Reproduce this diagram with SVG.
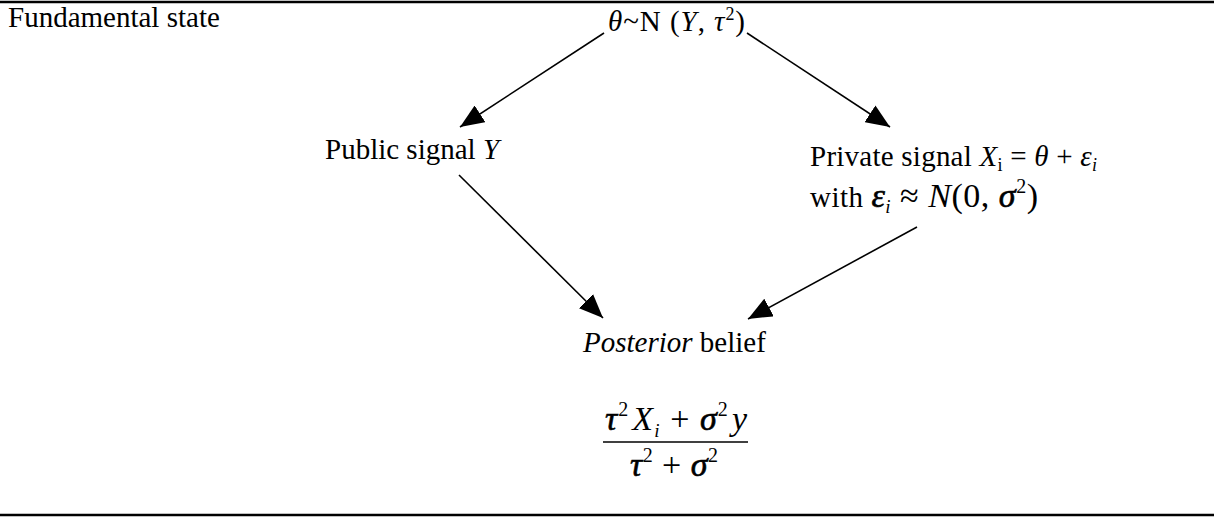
<svg xmlns="http://www.w3.org/2000/svg" width="1214" height="517" viewBox="0 0 1214 517">
<style>
text{font-family:"Liberation Serif","Times New Roman",serif;font-size:29px;fill:#000}
.it{font-style:italic}
.m{font-size:34px}
.b{stroke:#000;stroke-width:0.6}
.conn line{stroke:#000;stroke-width:1.6;fill:none}
</style>
<defs>
<marker id="ah" viewBox="0 0 24 20" refX="24" refY="10" markerWidth="24" markerHeight="20" markerUnits="userSpaceOnUse" orient="auto">
<path d="M0,0 L24,10 L0,20 z" fill="#000"/>
</marker>
</defs>
<rect width="1214" height="517" fill="#fff"/>
<line x1="0" y1="2" x2="1214" y2="2" stroke="#000" stroke-width="2.5"/>
<line x1="0" y1="515" x2="1214" y2="515" stroke="#000" stroke-width="2.5"/>
<g id="label-fundamental"><text x="8" y="27">Fundamental state</text></g>
<g id="node-theta"><text x="608" y="31" textLength="137" lengthAdjust="spacing"><tspan class="it">θ</tspan>~N (<tspan class="it">Y</tspan>, <tspan class="it">τ</tspan><tspan font-size="18" dy="-11">2</tspan><tspan dy="11">)</tspan></text></g>
<g id="node-public"><text x="325" y="159">Public signal <tspan class="it">Y</tspan></text></g>
<g id="node-private">
<text x="810" y="166" textLength="287" lengthAdjust="spacing">Private signal <tspan class="it">X</tspan><tspan font-size="18" dy="5">i</tspan><tspan dy="-5"> = </tspan><tspan class="it">θ</tspan> + <tspan class="it">ε</tspan><tspan class="it" font-size="18" dy="5">i</tspan></text>
<text x="810" y="207" textLength="228" lengthAdjust="spacing">with <tspan class="it m b">ε</tspan><tspan class="it" font-size="19" dy="6">i</tspan><tspan class="m" dy="-6"> ≈ </tspan><tspan class="it m">N</tspan><tspan class="m">(0, </tspan><tspan class="it m b">σ</tspan><tspan font-size="20" dy="-14">2</tspan><tspan class="m" dy="14">)</tspan></text>
</g>
<g id="node-posterior">
<text x="583" y="352"><tspan class="it">Posterior</tspan> belief</text>
<text x="605" y="430" class="m" textLength="142" lengthAdjust="spacing"><tspan class="it b">τ</tspan><tspan font-size="20" dy="-14">2</tspan><tspan class="it" dy="14" dx="3">X</tspan><tspan class="it" font-size="19" dy="7">i</tspan><tspan dy="-7"> + </tspan><tspan class="it b">σ</tspan><tspan font-size="20" dy="-14">2</tspan><tspan class="it" dy="14" dx="3">y</tspan></text>
<line x1="603" y1="442" x2="748" y2="442" stroke="#000" stroke-width="1.6"/>
<text x="630" y="476" class="m" textLength="88" lengthAdjust="spacing"><tspan class="it b">τ</tspan><tspan font-size="20" dy="-14">2</tspan><tspan dy="14"> + </tspan><tspan class="it b">σ</tspan><tspan font-size="20" dy="-14">2</tspan></text>
</g>
<g class="conn" id="connectors">
<line x1="604" y1="33" x2="460" y2="127" marker-end="url(#ah)"/>
<line x1="747" y1="33" x2="890" y2="127" marker-end="url(#ah)"/>
<line x1="459" y1="175" x2="603" y2="318" marker-end="url(#ah)"/>
<line x1="917" y1="227" x2="748" y2="319" marker-end="url(#ah)"/>
</g>
</svg>
